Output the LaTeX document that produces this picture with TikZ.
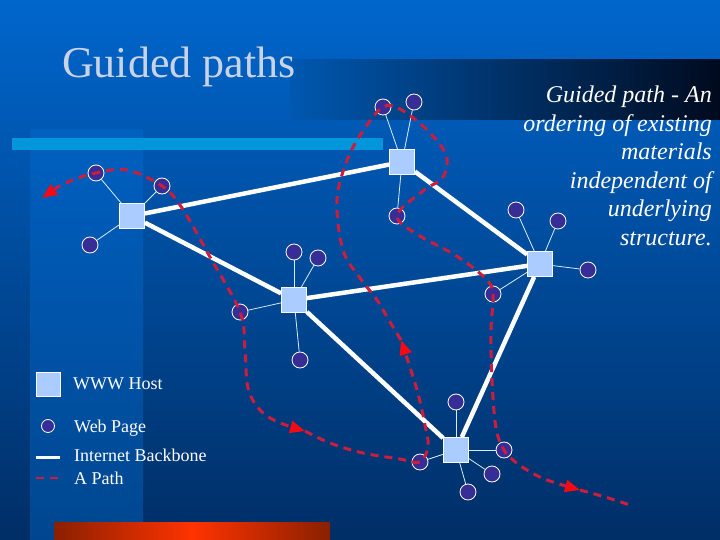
\documentclass[tikz,border=0pt]{standalone}
\usepackage{fontspec}
\setmainfont{Liberation Serif}
\usetikzlibrary{arrows.meta, positioning, calc}
\definecolor{bgtop}{HTML}{0066CC}
\definecolor{bgbot}{HTML}{002E66}
\definecolor{striptop}{HTML}{0060C0}
\definecolor{stripbot}{HTML}{00468F}
\definecolor{bandleft}{HTML}{0058B0}
\definecolor{bandright}{HTML}{000A1E}
\definecolor{barblue}{HTML}{0096DC}
\definecolor{ordark}{HTML}{8A2000}
\definecolor{orbright}{HTML}{FF3300}
\definecolor{hostblue}{HTML}{AACCFF}
\definecolor{pagepurple}{HTML}{372D96}
\definecolor{spokeblue}{HTML}{D8ECFF}
\definecolor{pathred}{HTML}{CC1E3C}
\definecolor{tipred}{HTML}{F20A14}
\definecolor{titlegrey}{HTML}{C9D3E6}
\tikzset{
  host/.style={draw=white, fill=hostblue, line width=0.8pt,
    minimum size=25pt, inner sep=0pt},
  page/.style={circle, draw=white, fill=pagepurple, line width=0.8pt,
    minimum size=16pt, inner sep=0pt},
  backbone/.style={draw=white, line width=4.5pt},
  spoke/.style={draw=spokeblue, line width=0.8pt},
  guide/.style={draw=pathred, line width=3pt, dash pattern=on 8pt off 6pt},
  tipend/.style={-{Triangle[length=15pt, width=12pt, color=tipred]}},
  tipboth/.style={{Triangle[length=15pt, width=12pt, color=tipred]}-{Triangle[length=15pt, width=12pt, color=tipred]}},
  legtext/.style={anchor=base west, text=white, inner sep=0pt,
    font=\fontsize{18}{20}\selectfont}
}

\begin{document}
\begin{tikzpicture}[x=1pt, y=-1pt]
  \useasboundingbox (0,0) rectangle (720,540);
  % backdrop
  \shade[top color=bgtop, bottom color=bgbot] (0,0) rectangle (720,540);
  \shade[top color=striptop, bottom color=stripbot] (30,130) rectangle (143,540);
  \shade[left color=bandleft, right color=bandright] (290,60) rectangle (720,120);
  \fill[barblue] (12,138) rectangle (383,150);
  \shade[left color=ordark, right color=ordark, middle color=orbright] (54,522) rectangle (330,540);

  % title and note
  \node[anchor=base west, inner sep=0pt, text=titlegrey,
    font=\fontsize{44}{50}\selectfont] (title) at (62,78) {Guided paths};
  \node[anchor=north east, align=right, inner sep=0pt, text=white,
    font=\fontsize{24}{28.5}\selectfont\itshape] (note) at (712,86)
    {Guided path - An\\ordering of existing\\materials\\independent of\\underlying\\structure.};

  % hosts
  \node[host] (h1) at (132,216) {};
  \node[host] (h2) at (402,162) {};
  \node[host] (h3) at (294,300) {};
  \node[host] (h4) at (540,264) {};
  \node[host] (h5) at (456,450) {};

  % web pages
  \node[page] (p1a) at (96,173) {};
  \node[page] (p1b) at (162,186) {};
  \node[page] (p1c) at (90,245) {};
  \node[page] (p2a) at (383,107) {};
  \node[page] (p2b) at (414,102) {};
  \node[page] (p2c) at (397,216) {};
  \node[page] (p3a) at (294,252) {};
  \node[page] (p3b) at (318,258) {};
  \node[page] (p3c) at (240,312) {};
  \node[page] (p3d) at (300,360) {};
  \node[page] (p4a) at (516,210) {};
  \node[page] (p4b) at (558,221) {};
  \node[page] (p4c) at (588,270) {};
  \node[page] (p4d) at (493,294) {};
  \node[page] (p5a) at (456,402) {};
  \node[page] (p5b) at (420,462) {};
  \node[page] (p5c) at (504,450) {};
  \node[page] (p5d) at (492,474) {};
  \node[page] (p5e) at (468,492) {};

  % backbone
  \draw[backbone] (h1) -- (h2);
  \draw[backbone] (h1) -- (h3);
  \draw[backbone] (h3) -- (h4);
  \draw[backbone] (h2) -- (h4);
  \draw[backbone] (h3) -- (h5);
  \draw[backbone] (h4) -- (h5);

  % host to page links
  \draw[spoke] (h1) -- (p1a);
  \draw[spoke] (h1) -- (p1b);
  \draw[spoke] (h1) -- (p1c);
  \draw[spoke] (h2) -- (p2a);
  \draw[spoke] (h2) -- (p2b);
  \draw[spoke] (h2) -- (p2c);
  \draw[spoke] (h3) -- (p3a);
  \draw[spoke] (h3) -- (p3b);
  \draw[spoke] (h3) -- (p3c);
  \draw[spoke] (h3) -- (p3d);
  \draw[spoke] (h4) -- (p4a);
  \draw[spoke] (h4) -- (p4b);
  \draw[spoke] (h4) -- (p4c);
  \draw[spoke] (h4) -- (p4d);
  \draw[spoke] (h5) -- (p5a);
  \draw[spoke] (h5) -- (p5b);
  \draw[spoke] (h5) -- (p5c);
  \draw[spoke] (h5) -- (p5d);
  \draw[spoke] (h5) -- (p5e);

  % the guided path
  \coordinate (gstart) at (42,198);
  \coordinate (gend) at (633,506);
  \draw[guide, tipboth] plot[smooth, tension=0.6] coordinates {(gstart) (68,182) (p1a.center)
    (127,170) (p1b.center) (182,208) (210,257) (p3c.center) (245,350) (248,388)
    (260,410) (278,422) (305,431)};
  \draw[guide, tipend] plot[smooth, tension=0.6] coordinates {(305,431) (330,443) (363,453)
    (400,459) (p5b.center) (428,446) (425,425) (417,390) (401,340)};
  \draw[guide, tipend] plot[smooth, tension=0.6] coordinates {(401,340) (390,322) (377,300)
    (360,278) (343,250) (337,200) (348,158) (365,128) (p2a.center) (400,109) (427,130)
    (446,155) (443,177) (423,191) (p2c.center) (420,236) (455,255) (485,278)
    (p4d.center) (491,330) (492,380) (496,428) (p5c.center) (513,460) (527,470)
    (547,480) (580,490)};
  \draw[guide] plot[smooth, tension=0.6] coordinates {(580,490) (605,497) (gend)};

  % legend
  \node[host, minimum size=24pt] (lhost) at (48,384) {};
  \node[legtext] (lhosttxt) at (73,389) {WWW Host};
  \node[page, minimum size=13pt] (lpage) at (48,426) {};
  \node[legtext] (lpagetxt) at (74,432) {Web Page};
  \coordinate (lbbw) at (36,457);
  \coordinate (lbbe) at (60,457);
  \draw[backbone, line width=3pt] (lbbw) -- (lbbe);
  \node[legtext] (lbbtxt) at (74,461) {Internet Backbone};
  \coordinate (lpaw) at (36,478);
  \coordinate (lpae) at (60,478);
  \draw[guide, line width=2pt, dash pattern=on 8pt off 6pt] (lpaw) -- (lpae);
  \node[legtext] (lpatxt) at (74,484) {A Path};
\end{tikzpicture}
\end{document}
